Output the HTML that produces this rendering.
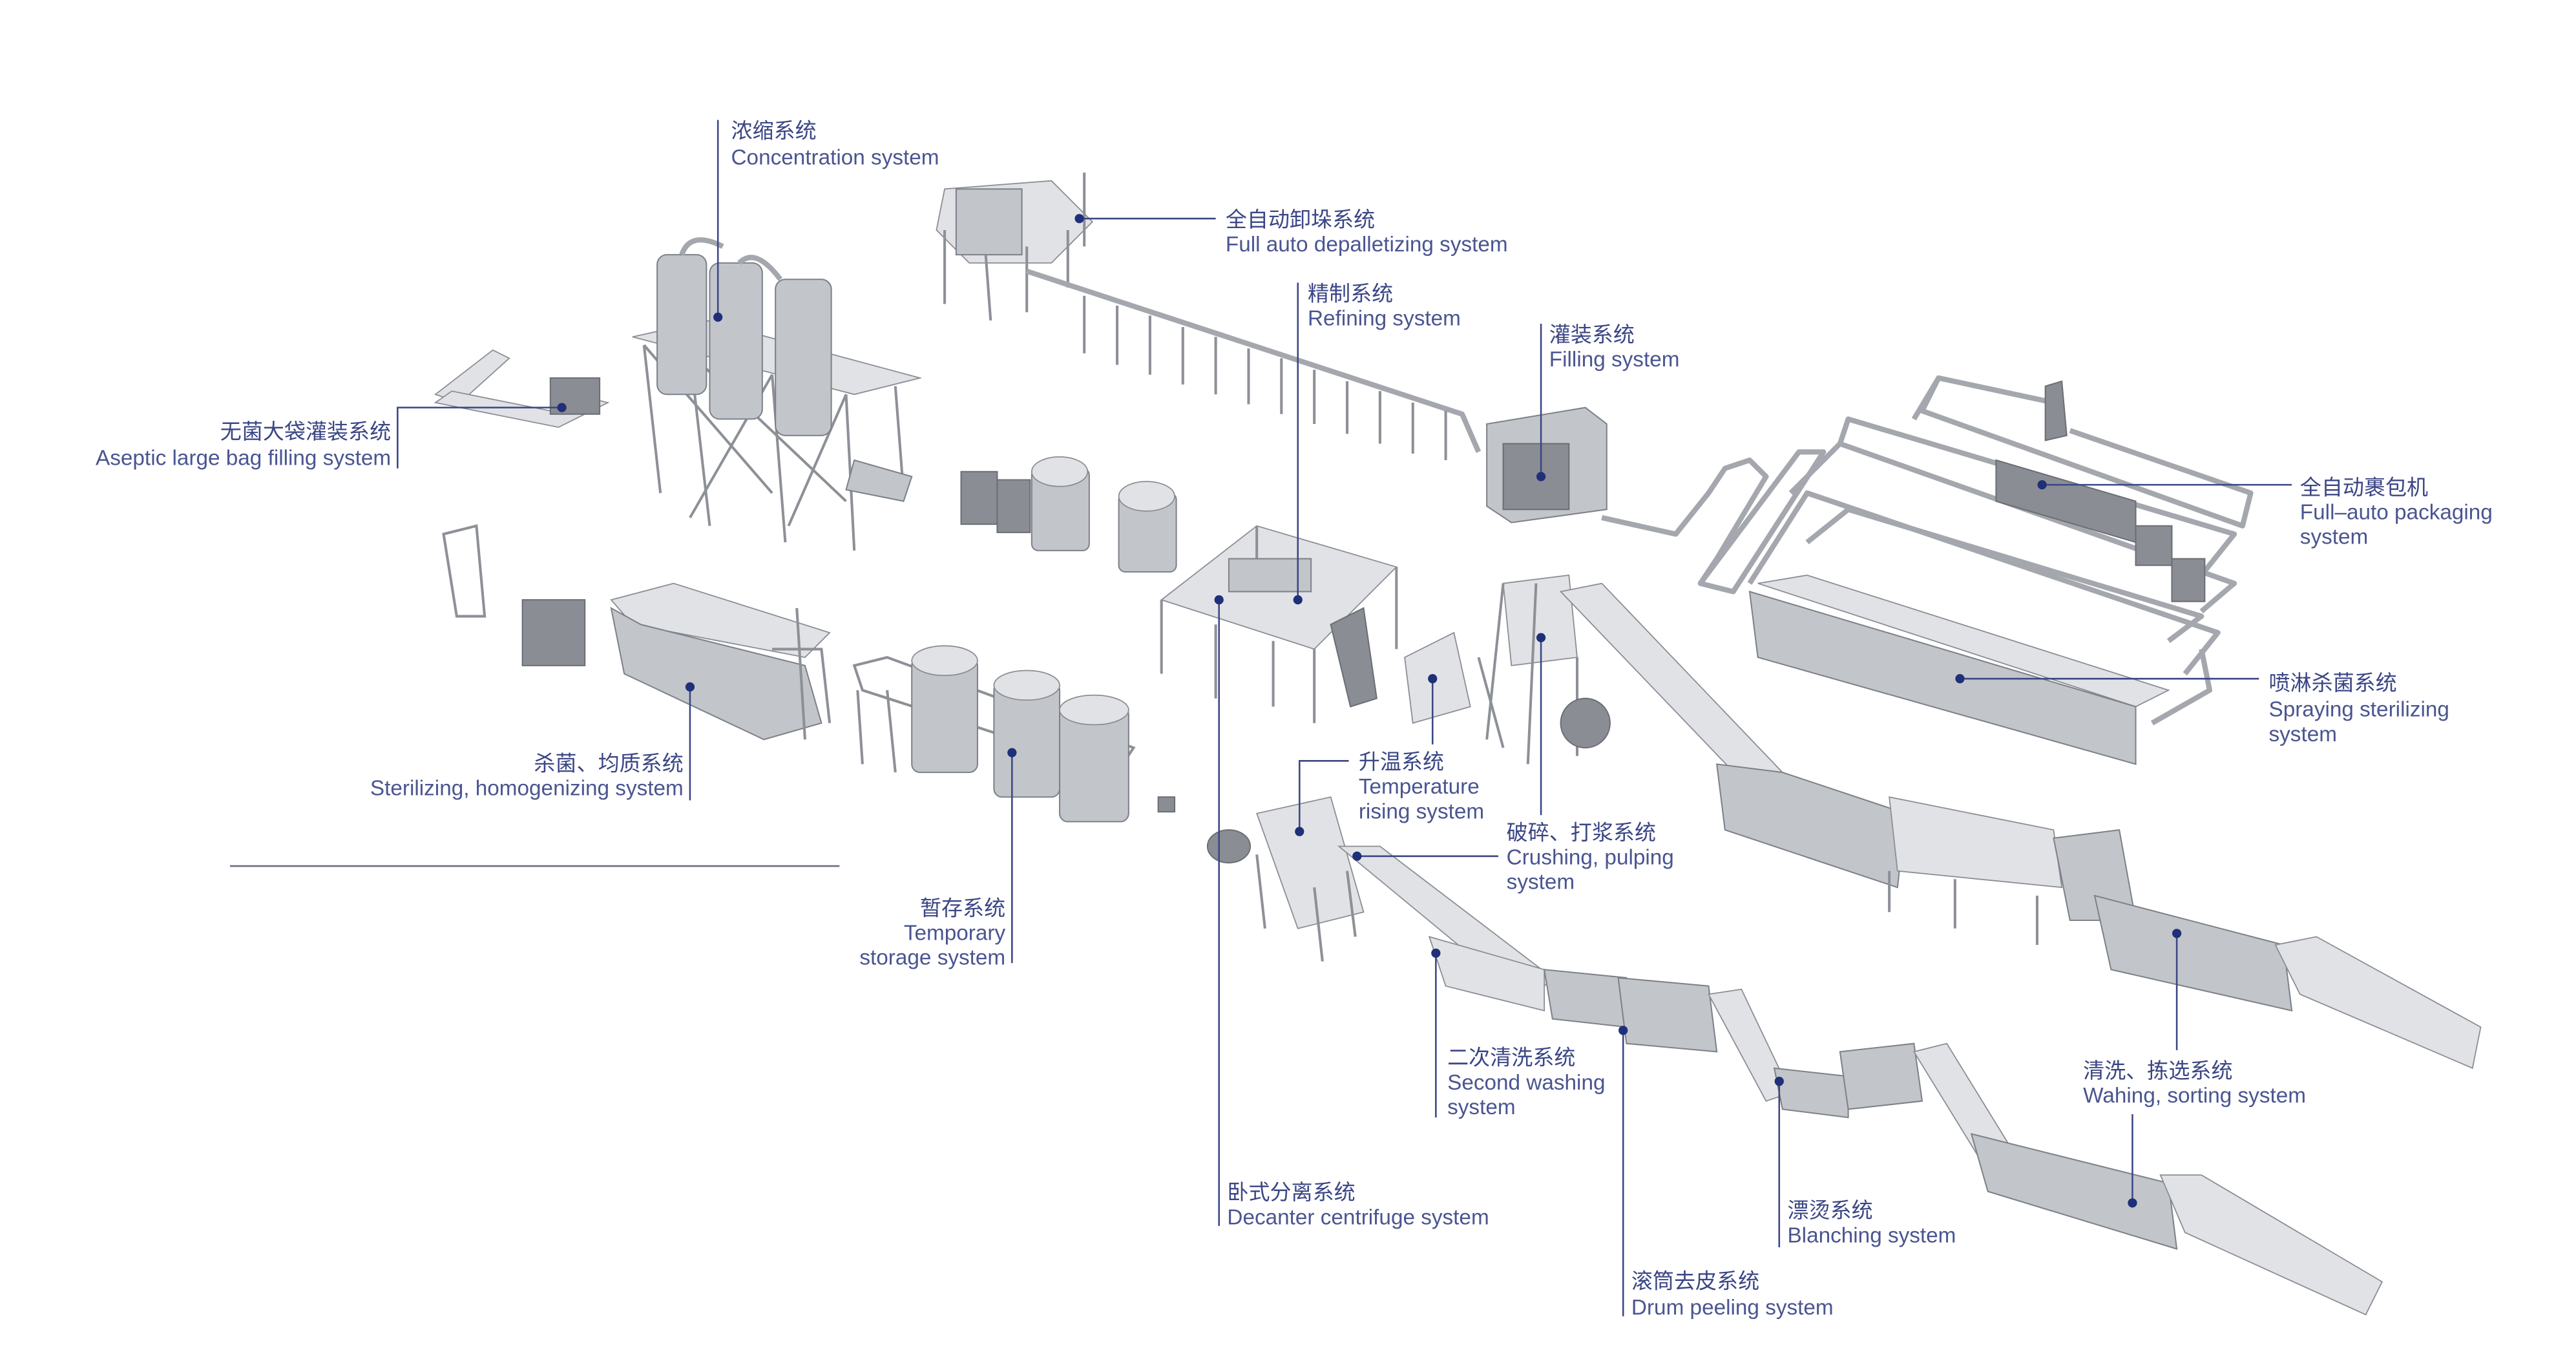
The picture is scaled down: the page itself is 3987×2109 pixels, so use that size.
<!DOCTYPE html>
<html><head><meta charset="utf-8"><style>
html,body{margin:0;padding:0;background:#fff;}
svg{display:block;}
.cn{font-family:"Liberation Sans","Noto Sans CJK SC",sans-serif;font-size:13px;fill:#3b4685;}
.en{font-family:"Liberation Sans","Noto Sans CJK SC",sans-serif;font-size:13.1px;fill:#4a5590;}
.ln{stroke:#3b4685;stroke-width:1;fill:none;}
.dot{fill:#1f2f78;}
.m{fill:#c2c5ca;stroke:#7d8189;stroke-width:0.8;}
.d{fill:#8a8d94;stroke:#6b6e75;stroke-width:0.8;}
.l{fill:#e1e2e6;stroke:#8a8d94;stroke-width:0.7;}
.p{stroke:#8d9097;stroke-width:1.6;fill:none;}
.t{stroke:#a4a7ad;stroke-width:3.2;fill:none;stroke-linejoin:round;}
</style></head><body>
<svg width="3987" height="2109" viewBox="0 0 1568 829.4" preserveAspectRatio="none" xmlns="http://www.w3.org/2000/svg">
<rect width="1568" height="829.4" fill="#fff"/>

<!-- Concentration system -->
<g>
<polygon class="l" points="385,205 520,240 560,230 430,195"/>
<path class="p" d="M392,210 L402,300 M420,215 L432,320 M470,228 L478,330 M515,240 L520,335 M545,235 L550,300 M392,210 L470,300 M470,228 L420,315 M515,240 L480,320 M420,215 L515,305"/>
<rect class="m" x="400" y="155" width="30" height="85" rx="6"/>
<rect class="m" x="432" y="160" width="32" height="95" rx="6"/>
<rect class="m" x="472" y="170" width="34" height="95" rx="6"/>
<path class="t" d="M415,155 Q420,140 440,150 M450,160 Q460,150 475,170"/>
<polygon class="l" points="265,240 300,213 310,218 280,245"/>
<polygon class="l" points="265,245 340,260 370,245 350,240 335,250 275,238"/>
<rect class="d" x="335" y="230" width="30" height="22"/>
<polygon class="m" points="520,280 555,290 550,305 515,298"/>
</g>

<!-- Depalletizer + long rail -->
<g>
<polygon class="l" points="575,115 640,110 665,135 640,160 590,160 570,140"/>
<rect class="m" x="582" y="115" width="40" height="40"/>
<path class="p" d="M575,140 L575,185 M600,155 L603,195 M625,150 L625,190 M650,140 L650,175 M660,105 L660,150"/>
<path class="t" d="M625,165 L890,252 L900,275"/>
<path class="p" d="M660,180 L660,215 M680,186 L680,222 M700,192 L700,228 M720,199 L720,234 M740,205 L740,240 M760,212 L760,246 M780,218 L780,252 M800,225 L800,258 M820,232 L820,264 M840,238 L840,270 M860,245 L860,276 M880,250 L880,280"/>
</g>

<!-- Filling -->
<g>
<polygon class="m" points="905,258 965,248 978,258 978,310 920,318 905,308"/>
<rect class="d" x="915" y="270" width="40" height="40"/>
<path class="t" d="M975,315 L1020,325 L1040,300 L1050,285 L1065,280 L1075,290 L1045,340 L1035,355"/>
</g>

<!-- Packaging loops -->
<g>
<path class="t" d="M1035,355 L1095,275 L1110,275 L1055,360 Z"/>
<path class="t" d="M1065,355 L1100,300 L1350,385 L1330,410"/>
<path class="t" d="M1090,300 L1120,270 L1360,355 L1340,372"/>
<path class="t" d="M1120,270 L1125,255 L1360,325 L1340,350"/>
<path class="t" d="M1165,255 L1180,230 L1250,245 M1180,230 L1170,250 L1365,320 L1370,300 L1260,262"/>
<path class="t" d="M1100,330 L1125,310 L1340,375 L1320,390"/>
<polygon class="d" points="1215,280 1300,305 1300,330 1215,305"/>
<rect class="d" x="1300" y="320" width="22" height="24"/>
<rect class="d" x="1322" y="340" width="20" height="26"/>
<polygon class="d" points="1245,235 1255,232 1258,265 1245,268"/>
</g>

<!-- Spraying tunnel -->
<g>
<polygon class="l" points="1070,355 1100,350 1320,420 1300,430"/>
<polygon class="m" points="1065,360 1300,430 1300,465 1070,400"/>
<path class="t" d="M1310,440 L1345,420 L1340,395"/>
</g>

<!-- Sterilizing homogenizing -->
<g>
<path class="p" d="M270,325 L290,320 L295,375 L278,375 Z"/>
<rect class="d" x="318" y="365" width="38" height="40"/>
<polygon class="l" points="372,365 410,355 505,385 490,400 385,380"/>
<polygon class="m" points="372,370 390,380 490,405 500,440 465,450 380,410"/>
<path class="p" d="M470,395 L500,395 L505,440 M485,370 L490,450"/>
</g>

<!-- Tanks -->
<g>
<rect class="d" x="585" y="287" width="22" height="32"/>
<rect class="d" x="607" y="292" width="20" height="32"/>
<rect class="m" x="628" y="285" width="35" height="50" rx="4"/>
<ellipse class="l" cx="645" cy="287" rx="17" ry="9"/>
<rect class="m" x="681" y="300" width="35" height="48" rx="4"/>
<ellipse class="l" cx="698" cy="302" rx="17" ry="9"/>
</g>

<!-- Refining platform -->
<g>
<polygon class="l" points="707,365 765,320 850,345 800,395"/>
<path class="p" d="M707,365 L707,410 M740,380 L740,425 M775,390 L775,430 M800,395 L800,440 M850,345 L850,395 M765,320 L765,360"/>
<polygon class="d" points="810,380 830,370 838,425 822,430"/>
<rect class="m" x="748" y="340" width="50" height="20"/>
</g>

<!-- Temp storage -->
<g>
<path class="p" d="M520,405 L540,400 L690,455 L680,470 L525,420 Z M522,420 L525,465 M540,420 L545,470"/>
<rect class="m" x="555" y="400" width="40" height="70" rx="5"/>
<rect class="m" x="605" y="415" width="40" height="70" rx="5"/>
<rect class="m" x="645" y="430" width="42" height="70" rx="5"/>
<ellipse class="l" cx="575" cy="402" rx="20" ry="9"/>
<ellipse class="l" cx="625" cy="417" rx="20" ry="9"/>
<ellipse class="l" cx="666" cy="432" rx="21" ry="9"/>
<rect class="d" x="705" y="485" width="10" height="9"/>
</g>

<!-- Crushing tower and upper conveyor line -->
<g>
<polygon class="l" points="915,355 955,350 960,400 920,405"/>
<path class="p" d="M915,355 L905,450 M935,355 L930,465 M960,400 L960,460 M900,400 L915,455"/>
<polygon class="l" points="950,360 975,355 1085,470 1065,480"/>
<polygon class="m" points="1045,465 1085,470 1160,495 1155,540 1050,505"/>
<polygon class="l" points="1150,485 1250,505 1255,540 1155,530"/>
<path class="p" d="M1150,530 L1150,555 M1190,535 L1190,565 M1240,545 L1240,575"/>
<polygon class="m" points="1250,510 1290,505 1300,560 1260,560"/>
<polygon class="m" points="1275,545 1390,575 1395,615 1285,590"/>
<polygon class="l" points="1385,575 1410,570 1510,625 1505,650 1400,605"/>
<ellipse class="d" cx="965" cy="440" rx="15" ry="15"/>
<polygon class="l" points="855,400 885,385 895,430 860,440"/>
</g>

<!-- Lower line -->
<g>
<ellipse class="d" cx="748" cy="515" rx="13" ry="10"/>
<polygon class="l" points="765,495 810,485 830,555 790,565"/>
<path class="p" d="M765,520 L770,565 M800,540 L805,585 M820,530 L825,570"/>
<polygon class="l" points="815,515 840,515 945,595 930,610"/>
<polygon class="l" points="870,570 940,590 940,615 880,600"/>
<polygon class="m" points="940,590 990,595 990,625 945,620"/>
<polygon class="m" points="985,595 1040,600 1045,640 990,635"/>
<polygon class="l" points="1040,605 1060,602 1090,665 1075,670"/>
<polygon class="m" points="1080,650 1125,655 1125,680 1085,675"/>
<polygon class="m" points="1120,640 1165,635 1170,670 1125,675"/>
<polygon class="l" points="1165,640 1185,635 1225,700 1205,705"/>
<polygon class="m" points="1200,690 1320,720 1325,760 1210,725"/>
<polygon class="l" points="1315,715 1340,715 1450,780 1440,800 1330,750"/>
</g>

<!-- separator line -->
<line x1="140" y1="527" x2="511" y2="527" stroke="#6a6e82" stroke-width="1"/>

<!-- Connectors -->
<g>
<path class="ln" d="M437,73 L437,193"/><circle class="dot" cx="437" cy="193" r="2.8"/>
<path class="ln" d="M657,133 L740,133"/><circle class="dot" cx="657" cy="133" r="2.8"/>
<path class="ln" d="M790,172 L790,365"/><circle class="dot" cx="790" cy="365" r="2.8"/>
<path class="ln" d="M938,197 L938,290"/><circle class="dot" cx="938" cy="290" r="2.8"/>
<path class="ln" d="M1243,295 L1395,295"/><circle class="dot" cx="1243" cy="295" r="2.8"/>
<path class="ln" d="M342,248 L242,248 L242,285"/><circle class="dot" cx="342" cy="248" r="2.8"/>
<path class="ln" d="M1193,413 L1375,413"/><circle class="dot" cx="1193" cy="413" r="2.8"/>
<path class="ln" d="M420,418 L420,487"/><circle class="dot" cx="420" cy="418" r="2.8"/>
<path class="ln" d="M616,458 L616,586"/><circle class="dot" cx="616" cy="458" r="2.8"/>
<path class="ln" d="M742,365 L742,746"/><circle class="dot" cx="742" cy="365" r="2.8"/>
<path class="ln" d="M872,413 L872,453"/><circle class="dot" cx="872" cy="413" r="2.8"/>
<path class="ln" d="M821,463 L791,463 L791,506"/><circle class="dot" cx="791" cy="506" r="2.8"/>
<path class="ln" d="M938,388 L938,496"/><circle class="dot" cx="938" cy="388" r="2.8"/>
<path class="ln" d="M826,521 L912,521"/><circle class="dot" cx="826" cy="521" r="2.8"/>
<path class="ln" d="M874,580 L874,680"/><circle class="dot" cx="874" cy="580" r="2.8"/>
<path class="ln" d="M988,627 L988,801"/><circle class="dot" cx="988" cy="627" r="2.8"/>
<path class="ln" d="M1083,658 L1083,759"/><circle class="dot" cx="1083" cy="658" r="2.8"/>
<path class="ln" d="M1325,568 L1325,639"/><circle class="dot" cx="1325" cy="568" r="2.8"/>
<path class="ln" d="M1298,678 L1298,732"/><circle class="dot" cx="1298" cy="732" r="2.8"/>
</g>

<!-- Labels -->
<g>
<text class="cn" x="445" y="84">浓缩系统</text><text class="en" x="445" y="100">Concentration system</text>
<text class="cn" x="746" y="138">全自动卸垛系统</text><text class="en" x="746" y="153">Full auto depalletizing system</text>
<text class="cn" x="796" y="183">精制系统</text><text class="en" x="796" y="198">Refining system</text>
<text class="cn" x="943" y="208">灌装系统</text><text class="en" x="943" y="223">Filling system</text>
<text class="cn" x="1400" y="301">全自动裹包机</text><text class="en" x="1400" y="316">Full–auto packaging</text><text class="en" x="1400" y="331">system</text>
<text class="cn" x="238" y="267" text-anchor="end">无菌大袋灌装系统</text><text class="en" x="238" y="283" text-anchor="end">Aseptic large bag filling system</text>
<text class="cn" x="1381" y="420">喷淋杀菌系统</text><text class="en" x="1381" y="436">Spraying sterilizing</text><text class="en" x="1381" y="451">system</text>
<text class="cn" x="416" y="469" text-anchor="end">杀菌、均质系统</text><text class="en" x="416" y="484" text-anchor="end">Sterilizing, homogenizing system</text>
<text class="cn" x="827" y="468">升温系统</text><text class="en" x="827" y="483">Temperature</text><text class="en" x="827" y="498">rising system</text>
<text class="cn" x="917" y="511">破碎、打浆系统</text><text class="en" x="917" y="526">Crushing, pulping</text><text class="en" x="917" y="541">system</text>
<text class="cn" x="612" y="557" text-anchor="end">暂存系统</text><text class="en" x="612" y="572" text-anchor="end">Temporary</text><text class="en" x="612" y="587" text-anchor="end">storage system</text>
<text class="cn" x="881" y="648">二次清洗系统</text><text class="en" x="881" y="663">Second washing</text><text class="en" x="881" y="678">system</text>
<text class="cn" x="1268" y="656">清洗、拣选系统</text><text class="en" x="1268" y="671">Wahing, sorting system</text>
<text class="cn" x="747" y="730">卧式分离系统</text><text class="en" x="747" y="745">Decanter centrifuge system</text>
<text class="cn" x="1088" y="741">漂烫系统</text><text class="en" x="1088" y="756">Blanching system</text>
<text class="cn" x="993" y="784">滚筒去皮系统</text><text class="en" x="993" y="800">Drum peeling system</text>
</g>
</svg>
</body></html>
